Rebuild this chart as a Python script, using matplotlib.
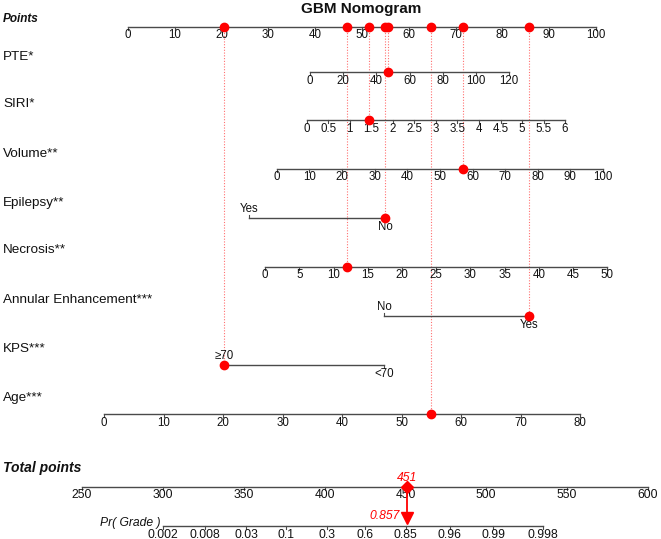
import matplotlib.pyplot as plt
import numpy as np

plt.rcParams['font.family'] = ['Liberation Sans', 'DejaVu Sans']

# --- data ---
points_ticks = np.arange(0, 101, 10)

pte_ticks = [0, 20, 40, 60, 80, 100, 120]
pte_pts = (38.9, 81.4)
siri_ticks = [0, 0.5, 1, 1.5, 2, 2.5, 3, 3.5, 4, 4.5, 5, 5.5, 6]
siri_pts = (38.2, 93.4)
volume_ticks = [0, 10, 20, 30, 40, 50, 60, 70, 80, 90, 100]
volume_pts = (31.8, 101.5)
necrosis_ticks = [0, 5, 10, 15, 20, 25, 30, 35, 40, 45, 50]
necrosis_pts = (29.3, 102.4)
age_ticks = [0, 10, 20, 30, 40, 50, 60, 70, 80]
age_pts = (-5.1, 96.6)

epilepsy_levels = ['Yes', 'No']
epilepsy_pts = [25.9, 54.9]
annular_levels = ['No', 'Yes']
annular_pts = [54.7, 85.7]
kps_levels = ['≥70', '<70']
kps_pts = [20.5, 54.8]

total_ticks = [250, 300, 350, 400, 450, 500, 550, 600]
prob_ticks = [0.002, 0.008, 0.03, 0.1, 0.3, 0.6, 0.85, 0.96, 0.99, 0.998]
prob_labels = ['0.002', '0.008', '0.03', '0.1', '0.3', '0.6', '0.85', '0.96', '0.99', '0.998']
logit_slope = 0.0529
logit_mid = 417.4

# patient
pte_val = 47
siri_val = 1.44
volume_val = 57
epilepsy_val = 'No'
necrosis_val = 12
annular_val = 'Yes'
kps_val = '≥70'
age_val = 55

AXIS_COL = '#4a4a4a'
TXT_COL = '#111111'
RED = '#ff0000'
DOT_LINE = '#ff7070'

PX_PER_PT = 4.68
X0 = 128


def px(p):
    # layout pixel -> points units
    return (p - X0) / PX_PER_PT


def lin(v, ticks, pts):
    return pts[0] + (v - ticks[0]) / (ticks[-1] - ticks[0]) * (pts[1] - pts[0])


def total_to_x(t):
    return px(82 + (t - 250) * 1.617)


def prob_to_x(p):
    return total_to_x(logit_mid + np.log(p / (1 - p)) / logit_slope)


fig = plt.figure(figsize=(6.61, 5.39), dpi=100)
ax = fig.add_axes([0, 0, 1, 1])
ax.set_xlim(px(0), px(661))
ax.set_ylim(539, 0)
ax.axis('off')


def scale(y, pos, labels, size=8.3):
    ax.plot([pos[0], pos[-1]], [y, y], color=AXIS_COL, lw=1)
    for p, l in zip(pos, labels):
        ax.plot([p, p], [y, y + 3], color=AXIS_COL, lw=0.8)
        ax.text(p, y + 8.5, l, ha='center', va='center', fontsize=size, color=TXT_COL)


def cat_scale(y, pos, labels):
    ax.plot([pos[0], pos[-1]], [y, y], color=AXIS_COL, lw=1)
    ax.plot([pos[0], pos[0]], [y, y - 3], color=AXIS_COL, lw=0.8)
    ax.plot([pos[1], pos[1]], [y, y + 3], color=AXIS_COL, lw=0.8)
    ax.text(pos[0], y - 9, labels[0], ha='center', va='center', fontsize=8.3, color=TXT_COL)
    ax.text(pos[1], y + 9, labels[1], ha='center', va='center', fontsize=8.3, color=TXT_COL)


def fmt(v):
    return ('%g' % v)


ax.text(px(361), 8.5, 'GBM Nomogram', ha='center', va='center', fontsize=11,
        fontweight='bold', color=TXT_COL)

name_x = px(3)
rows = [
    ('Points', 19, 27),
    ('PTE*', 57, 72),
    ('SIRI*', 104, 120),
    ('Volume**', 154, 169),
    ('Epilepsy**', 203, 218),
    ('Necrosis**', 250, 267),
    ('Annular Enhancement***', 300, 316),
    ('KPS***', 349, 365),
    ('Age***', 398, 414),
]
for name, ny, _ in rows:
    if name == 'Points':
        ax.text(name_x, ny, name, ha='left', va='center', fontsize=8.5,
                fontweight='bold', style='italic', color=TXT_COL)
    else:
        ax.text(name_x, ny, name, ha='left', va='center', fontsize=9.7, color=TXT_COL)

y_pts = 27
scale(y_pts, points_ticks, [fmt(t) for t in points_ticks])
scale(72, [lin(t, pte_ticks, pte_pts) for t in pte_ticks], [fmt(t) for t in pte_ticks])
scale(120, [lin(t, siri_ticks, siri_pts) for t in siri_ticks], [fmt(t) for t in siri_ticks])
scale(169, [lin(t, volume_ticks, volume_pts) for t in volume_ticks], [fmt(t) for t in volume_ticks])
cat_scale(218, epilepsy_pts, epilepsy_levels)
scale(267, [lin(t, necrosis_ticks, necrosis_pts) for t in necrosis_ticks], [fmt(t) for t in necrosis_ticks])
cat_scale(316, annular_pts, annular_levels)
cat_scale(365, kps_pts, kps_levels)
scale(414, [lin(t, age_ticks, age_pts) for t in age_ticks], [fmt(t) for t in age_ticks])

# patient points
patient = [
    (lin(pte_val, pte_ticks, pte_pts), 72),
    (lin(siri_val, siri_ticks, siri_pts), 120),
    (lin(volume_val, volume_ticks, volume_pts), 169),
    (epilepsy_pts[epilepsy_levels.index(epilepsy_val)], 218),
    (lin(necrosis_val, necrosis_ticks, necrosis_pts), 267),
    (annular_pts[annular_levels.index(annular_val)], 316),
    (kps_pts[kps_levels.index(kps_val)], 365),
    (lin(age_val, age_ticks, age_pts), 414),
]
for xp, yr in patient:
    ax.plot([xp, xp], [y_pts, yr], color=DOT_LINE, lw=0.8, ls=(0, (1, 1.5)), zorder=1)
    ax.plot(xp, yr, 'o', color=RED, ms=6, zorder=5)
    ax.plot(xp, y_pts, 'o', color=RED, ms=6, zorder=5)

total = sum(p for p, _ in patient)
prob = 1 / (1 + np.exp(-logit_slope * (total - logit_mid)))

# total points
ax.text(name_x, 468, 'Total points', ha='left', va='center', fontsize=10,
        fontweight='bold', style='italic', color=TXT_COL)
scale(487, [total_to_x(t) for t in total_ticks], [str(t) for t in total_ticks], size=8.7)

# probability
ax.text(px(160), 523, 'Pr( Grade )', ha='right', va='center', fontsize=8.7,
        style='italic', color=TXT_COL)
scale(526, [prob_to_x(p) for p in prob_ticks], prob_labels, size=8.7)

xt = total_to_x(total)
ax.plot([xt, xt], [487, 517], color=RED, lw=1.3, zorder=4)
ax.plot(xt, 487, 'D', color=RED, ms=6, zorder=5)
ax.plot(xt, 518, 'v', color=RED, ms=8, zorder=5)
ax.text(xt, 478, '%d' % round(total), ha='center', va='center', fontsize=8.7,
        style='italic', color=RED)
ax.text(xt - px(128 + 8), 516, '%.3f' % prob, ha='right', va='center', fontsize=8.7,
        style='italic', color=RED)

fig.savefig('out.png', dpi=100)
